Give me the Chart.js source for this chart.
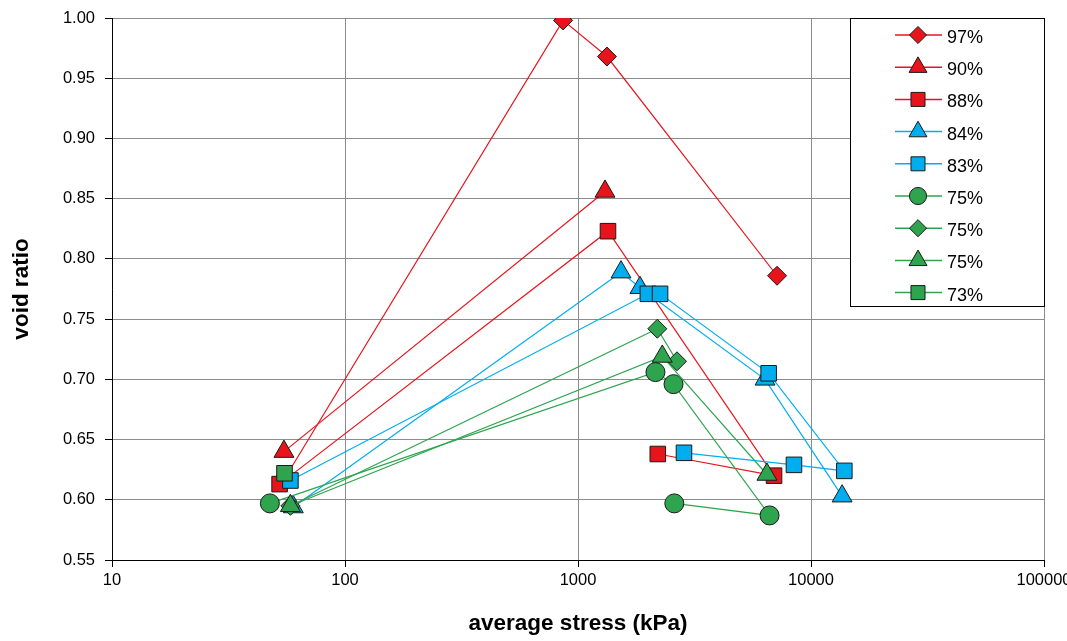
<!DOCTYPE html>
<html lang="en">
<head>
    <meta charset="UTF-8">
    <title>Void ratio vs average stress</title>
    <style>
        html, body { margin: 0; padding: 0; background: #fff; }
        #chartBox { width: 1067px; height: 641px; }
    </style>
    <script src="https://cdn.jsdelivr.net/npm/chart.js"></script>
</head>
<body>
    <div id="chartBox"><canvas id="voidChart" width="1067" height="641"></canvas></div>

    <script>
        // series labels, as in the legend
        const seriesLabels = ['97%', '90%', '88%', '84%', '83%', '75%', '75%', '75%', '73%'];

        // average stress (kPa) and void ratio, one pair of arrays per series
        const stress97 = [56, 863, 1331, 7150];
        const void97   = [0.620, 0.998, 0.968, 0.786];
        const stress90 = [54.7, 1306];
        const void90   = [0.640, 0.856];
        const stress88 = [52.4, 1345, 6940, 2200];
        const void88   = [0.613, 0.823, 0.620, 0.638];
        const stress84 = [60, 1530, 1845, 6350, 13600];
        const void84   = [0.594, 0.789, 0.776, 0.700, 0.603];
        const stress83 = [58.3, 1995, 2250, 6580, 13900, 8450, 2850];
        const void83   = [0.616, 0.771, 0.771, 0.705, 0.624, 0.629, 0.639];
        const stress75c = [47.6, 2150, 2570, 6640, 2590];
        const void75c   = [0.597, 0.706, 0.696, 0.587, 0.597];
        const stress75d = [58.3, 2190, 2660];
        const void75d   = [0.595, 0.742, 0.715];
        const stress75t = [58.3, 2300, 6470];
        const void75t   = [0.595, 0.719, 0.621];
        const stress73 = [55.0];
        const void73   = [0.622];

        // axis tick labels
        const xTicks = [10, 100, 1000, 10000, 100000];
        const yTicks = [0.55, 0.60, 0.65, 0.70, 0.75, 0.80, 0.85, 0.90, 0.95, 1.00];

        const RED = '#e8141b';
        const CYAN = '#00aeef';
        const GREEN = '#2ea44f';
        const FONT = "'Liberation Sans', Arial, sans-serif";

        const pairs = (xs, ys) => xs.map((x, i) => ({ x: x, y: ys[i] }));

        const seriesData = [
            [stress97, void97, RED, 'rectRot', 9.5],
            [stress90, void90, RED, 'triangle', 11.5],
            [stress88, void88, RED, 'rect', 11],
            [stress84, void84, CYAN, 'triangle', 11.5],
            [stress83, void83, CYAN, 'rect', 11],
            [stress75c, void75c, GREEN, 'circle', 9.5],
            [stress75d, void75d, GREEN, 'rectRot', 9.5],
            [stress75t, void75t, GREEN, 'triangle', 11.5],
            [stress73, void73, GREEN, 'rect', 11]
        ];

        const datasets = seriesData.map(([xs, ys, col, style, r], i) => ({
            label: seriesLabels[i],
            data: pairs(xs, ys),
            showLine: true,
            borderColor: col,
            borderWidth: 1.2,
            pointStyle: style,
            pointRadius: r,
            pointBackgroundColor: col,
            pointBorderColor: '#1a1a1a',
            pointBorderWidth: 1,
            order: -i   // later series on top, like the original
        }));

        // legend box drawn inside the plot, top right
        const boxLegend = {
            id: 'boxLegend',
            afterDraw(chart) {
                const ctx = chart.ctx;
                const x0 = 850.5, y0 = 18.5, w = 194, h = 288;
                ctx.save();
                ctx.fillStyle = '#fff';
                ctx.fillRect(x0, y0, w, h);
                ctx.strokeStyle = '#000';
                ctx.lineWidth = 1;
                ctx.strokeRect(x0, y0, w, h);
                chart.data.datasets.forEach((ds, i) => {
                    const y = 35 + i * 32.2;
                    ctx.strokeStyle = ds.borderColor;
                    ctx.lineWidth = 1.5;
                    ctx.beginPath();
                    ctx.moveTo(895, y);
                    ctx.lineTo(942, y);
                    ctx.stroke();
                    ctx.fillStyle = ds.pointBackgroundColor;
                    ctx.strokeStyle = ds.pointBorderColor;
                    ctx.lineWidth = 1;
                    Chart.helpers.drawPoint(ctx, {
                        pointStyle: ds.pointStyle,
                        radius: ds.pointRadius * 0.9,
                        rotation: 0,
                        borderWidth: 1
                    }, 918, y);
                    ctx.fillStyle = '#000';
                    ctx.font = '18px ' + FONT;
                    ctx.textAlign = 'left';
                    ctx.textBaseline = 'middle';
                    ctx.fillText(ds.label, 947, y + 3);
                });
                ctx.restore();
            }
        };

        new Chart(document.getElementById('voidChart'), {
            type: 'scatter',
            data: { datasets: datasets },
            options: {
                responsive: false,
                animation: false,
                layout: { padding: { top: 18, right: 23, left: 0, bottom: 0 } },
                plugins: {
                    legend: { display: false },
                    tooltip: { enabled: false }
                },
                scales: {
                    x: {
                        type: 'logarithmic',
                        min: 10,
                        max: 100000,
                        afterBuildTicks: s => { s.ticks = xTicks.map(v => ({ value: v })); },
                        afterFit: s => { s.height = 81; s.paddingLeft = 0; s.paddingRight = 0; },
                        ticks: {
                            callback: v => String(v),
                            color: '#000',
                            font: { family: FONT, size: 16.5 },
                            padding: 4,
                            maxRotation: 0,
                            autoSkip: false
                        },
                        grid: { color: '#8c8c8c', tickColor: '#000', tickLength: 7 },
                        border: { color: '#000', width: 1 },
                        title: {
                            display: true,
                            text: 'average stress (kPa)',
                            color: '#000',
                            font: { family: FONT, size: 22.5, weight: 'bold' },
                            padding: { top: 0, bottom: 4 }
                        }
                    },
                    y: {
                        min: 0.55,
                        max: 1.0,
                        afterBuildTicks: s => { s.ticks = yTicks.map(v => ({ value: v })); },
                        afterFit: s => { s.width = 112; s.paddingTop = 0; s.paddingBottom = 0; },
                        ticks: {
                            callback: v => v.toFixed(2),
                            color: '#000',
                            font: { family: FONT, size: 16.5 },
                            padding: 10
                        },
                        grid: { color: '#8c8c8c', tickColor: '#000', tickLength: 7 },
                        border: { color: '#000', width: 1 },
                        title: {
                            display: true,
                            text: 'void ratio',
                            color: '#000',
                            font: { family: FONT, size: 22.5, weight: 'bold' },
                            padding: { top: 8, bottom: 0 }
                        }
                    }
                }
            },
            plugins: [boxLegend]
        });
    </script>
</body>
</html>
